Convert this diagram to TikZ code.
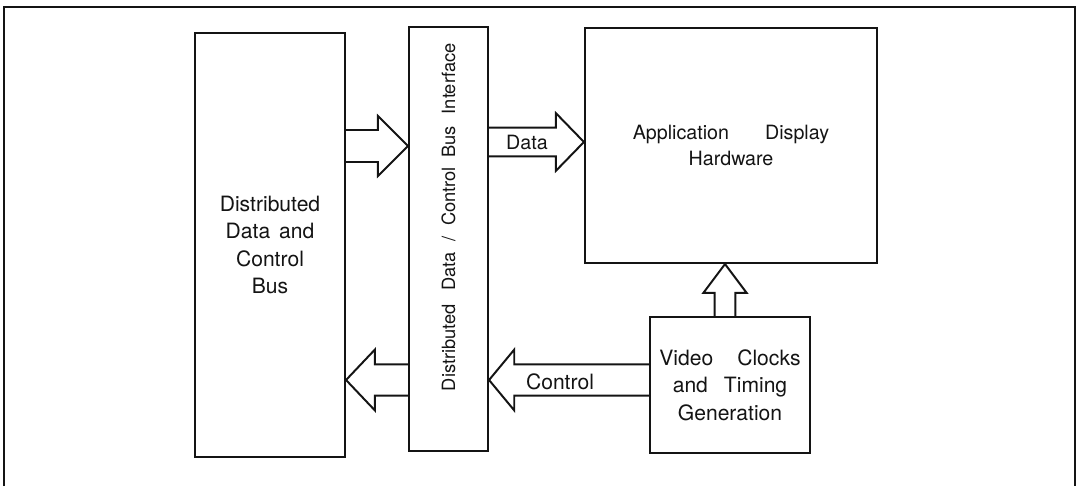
\documentclass[tikz,border=0pt]{standalone}
\usepackage{fontspec}
\setmainfont{TeX Gyre Heros}
\usetikzlibrary{calc}

\definecolor{ink}{HTML}{141414}
\tikzset{
  blockbox/.style={draw=ink,line width=1.5pt,fill=white,inner sep=0pt,align=center,text=ink},
  blocktext/.style={font=\fontsize{15}{19.5}\selectfont},
  fatline/.style={draw=ink,line width=1.4pt,line join=miter},
  framelne/.style={draw=ink,line width=0.9pt},
}
% hollow block arrow: from, to, shaft half width, head half width, head length
\newcommand\fatarrow[5]{%
  \coordinate (arrbase) at ($(#2)!#5!(#1)$);
  \draw[fatline] ($(#1)!#3!90:(#2)$) -- ($(arrbase)!#3!90:(#2)$)
    -- ($(arrbase)!#4!90:(#2)$) -- (#2) -- ($(arrbase)!#4!-90:(#2)$)
    -- ($(arrbase)!#3!-90:(#2)$) -- ($(#1)!#3!-90:(#2)$);
}

\begin{document}
\begin{tikzpicture}[x=1cm,y=1cm]
  \draw[framelne] (0.1,0) -- (0.1,11.975) -- (26.875,11.975) -- (26.875,0);

  % blocks
  \node[blockbox,blocktext,minimum width=3.75cm,minimum height=10.6cm] (bus) at (6.75,6.025)
    {Distributed\\Data\hspace{0.22cm}and\\Control\\Bus};
  \node[blockbox,minimum width=1.975cm,minimum height=10.6cm] (iface) at (11.2125,6.175) {};
  \node[rotate=90,text=ink,font=\fontsize{13}{15}\selectfont] (ifacetext) at ([yshift=0.55cm]iface.center)
    {Distributed\hspace{0.34cm}Data\hspace{0.26cm}/\hspace{0.26cm}Control\hspace{0.24cm}Bus\hspace{0.3cm}Interface};
  \node[blockbox,font=\fontsize{14}{19}\selectfont,minimum width=7.3cm,minimum height=5.875cm] (app) at (18.275,8.5125)
    {Application\hspace{0.9cm}Display\\Hardware};
  \node[blockbox,blocktext,minimum width=4cm,minimum height=3.4cm] (video) at (18.25,2.525)
    {Video\hspace{0.6cm}Clocks\\and\hspace{0.4cm}Timing\\Generation};

  % arrow rows
  \coordinate (uprow) at (0,8.5);
  \coordinate (datarow) at (0,8.6);
  \coordinate (lowrow) at (0,2.65);
  \coordinate (upcol) at (18.125,0);
  \coordinate (busout) at (bus.east |- uprow);
  \coordinate (ifacein) at (iface.west |- uprow);
  \coordinate (ifaceout) at (iface.east |- datarow);
  \coordinate (appin) at (app.west |- datarow);
  \coordinate (ifaceback) at (iface.west |- lowrow);
  \coordinate (busin) at (bus.east |- lowrow);
  \coordinate (videoout) at (video.west |- lowrow);
  \coordinate (ifacectl) at (iface.east |- lowrow);
  \coordinate (videotop) at (upcol |- video.north);
  \coordinate (appbottom) at (upcol |- app.south);

  \fatarrow{busout}{ifacein}{0.4cm}{0.75cm}{0.75cm}
  \fatarrow{ifaceout}{appin}{0.36cm}{0.72cm}{0.7cm}
  \fatarrow{ifaceback}{busin}{0.39cm}{0.76cm}{0.72cm}
  \fatarrow{videoout}{ifacectl}{0.39cm}{0.76cm}{0.63cm}
  \fatarrow{videotop}{appbottom}{0.26cm}{0.54cm}{0.72cm}

  \node[text=ink,font=\fontsize{14}{16}\selectfont] (datalabel) at (13.175,8.6) {Data};
  \node[text=ink,font=\fontsize{15}{16}\selectfont] (ctrllabel) at (14.0,2.6) {Control};

  \path[use as bounding box] (0,0) rectangle (26.975,12.15);
\end{tikzpicture}
\end{document}
